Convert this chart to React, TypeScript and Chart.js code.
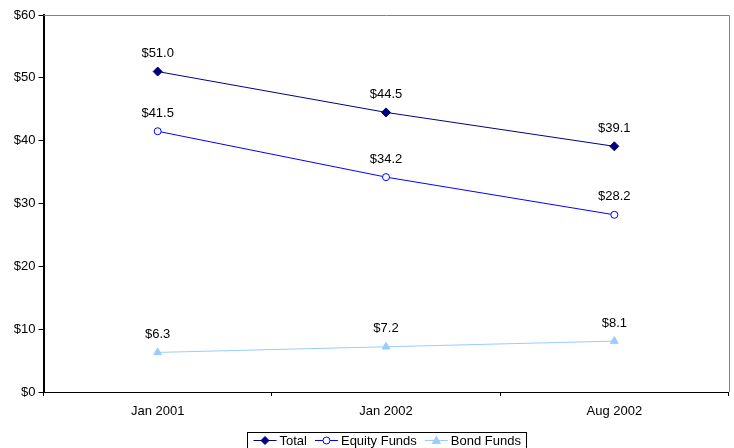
import React, { useEffect, useRef } from "react";
import { Chart, registerables } from "chart.js";

Chart.register(...registerables);

const categories = ["Jan 2001", "Jan 2002", "Aug 2002"];
const totalValues = [51.0, 44.5, 39.1];
const equityValues = [41.5, 34.2, 28.2];
const bondValues = [6.3, 7.2, 8.1];
const seriesNames = ["Total", "Equity Funds", "Bond Funds"];

const FONT = "'Liberation Sans', Arial, sans-serif";
const FS = 13;

const labelsPlugin = {
  id: "pointLabels",
  afterDatasetsDraw(chart: any) {
    const ctx = chart.ctx;
    ctx.save();
    ctx.font = `${FS}px ${FONT}`;
    ctx.fillStyle = "#000";
    ctx.textAlign = "center";
    ctx.textBaseline = "middle";
    chart.data.datasets.forEach((ds: any, i: number) => {
      const meta = chart.getDatasetMeta(i);
      meta.data.forEach((pt: any, j: number) => {
        ctx.fillText("$" + Number(ds.data[j]).toFixed(1), pt.x, pt.y - 18);
      });
    });
    ctx.restore();
  },
};

const framePlugin = {
  id: "frame",
  afterDraw(chart: any) {
    const { ctx, chartArea } = chart;
    ctx.save();
    ctx.strokeStyle = "#808080";
    ctx.lineWidth = 1;
    ctx.beginPath();
    ctx.moveTo(chartArea.left, chartArea.top + 0.5);
    ctx.lineTo(Math.round(chartArea.right) + 0.5, chartArea.top + 0.5);
    ctx.lineTo(Math.round(chartArea.right) + 0.5, chartArea.bottom);
    ctx.stroke();
    ctx.restore();
  },
};

const legendPlugin = {
  id: "customLegend",
  afterDraw(chart: any) {
    const ctx = chart.ctx;
    ctx.save();
    ctx.font = `${FS}px ${FONT}`;
    const lineLen = 23;
    const gap = 3;
    const itemGap = 8;
    const items = chart.data.datasets.map((ds: any) => ({
      ds,
      w: lineLen + gap + ctx.measureText(ds.label).width,
    }));
    const total = Math.round(items.reduce((s: number, it: any) => s + it.w, 0) + itemGap * (items.length - 1) + 12);
    const cx = (chart.chartArea.left + chart.chartArea.right) / 2;
    const boxL = Math.round(cx - total / 2) + 0.5;
    const boxT = 432.5;
    ctx.strokeStyle = "#000";
    ctx.lineWidth = 1;
    ctx.strokeRect(boxL, boxT, total, 20);
    let x = boxL + 6;
    const y = 440;
    items.forEach((it: any) => {
      const ds = it.ds;
      ctx.strokeStyle = ds.borderColor;
      ctx.lineWidth = 1;
      ctx.beginPath();
      ctx.moveTo(x, y + 0.5);
      ctx.lineTo(x + lineLen, y + 0.5);
      ctx.stroke();
      const mx = x + lineLen / 2;
      const my = y + 0.5;
      ctx.fillStyle = ds.pointBackgroundColor;
      ctx.strokeStyle = ds.pointBorderColor;
      ctx.beginPath();
      if (ds.pointStyle === "rectRot") {
        ctx.moveTo(mx, my - 4);
        ctx.lineTo(mx + 4, my);
        ctx.lineTo(mx, my + 4);
        ctx.lineTo(mx - 4, my);
        ctx.closePath();
        ctx.fill();
        ctx.stroke();
      } else if (ds.pointStyle === "circle") {
        ctx.arc(mx, my, 3.5, 0, Math.PI * 2);
        ctx.fill();
        ctx.stroke();
      } else {
        ctx.moveTo(mx, my - 4);
        ctx.lineTo(mx + 4, my + 3);
        ctx.lineTo(mx - 4, my + 3);
        ctx.closePath();
        ctx.fill();
        ctx.stroke();
      }
      ctx.fillStyle = "#000";
      ctx.textAlign = "left";
      ctx.textBaseline = "middle";
      ctx.fillText(ds.label, x + lineLen + gap, y + 1);
      x += it.w + itemGap;
    });
    ctx.restore();
  },
};

export default function App() {
  const ref = useRef<HTMLCanvasElement>(null);
  useEffect(() => {
    document.body.style.margin = "0";
    const chart = new Chart(ref.current!, {
      type: "line",
      data: {
        labels: categories,
        datasets: [
          {
            label: seriesNames[0],
            data: totalValues,
            borderColor: "#000080",
            backgroundColor: "#000080",
            pointBackgroundColor: "#000080",
            pointBorderColor: "#000080",
            pointStyle: "rectRot",
            pointRadius: 4.5,
            borderWidth: 1,
          },
          {
            label: seriesNames[1],
            data: equityValues,
            borderColor: "#0000FF",
            backgroundColor: "#ffffff",
            pointBackgroundColor: "#ffffff",
            pointBorderColor: "#0000FF",
            pointStyle: "circle",
            pointRadius: 3.5,
            pointBorderWidth: 1,
            borderWidth: 1,
          },
          {
            label: seriesNames[2],
            data: bondValues,
            borderColor: "#99CCFF",
            backgroundColor: "#99CCFF",
            pointBackgroundColor: "#99CCFF",
            pointBorderColor: "#99CCFF",
            pointStyle: "triangle",
            pointRadius: 4.5,
            borderWidth: 1,
          },
        ],
      } as any,
      options: {
        animation: false,
        responsive: false,
        layout: { padding: { top: 15, right: 1.5, left: 0.5, bottom: 0 } },
        plugins: { legend: { display: false }, tooltip: { enabled: false } },
        scales: {
          x: {
            offset: true,
            grid: { offset: true, drawOnChartArea: false, drawTicks: true, tickLength: 4, color: "#000", tickColor: "#000" },
            border: { display: true, color: "#000", width: 1 },
            ticks: { color: "#000", font: { family: FONT, size: FS }, padding: 8 },
            afterFit: (s: any) => { s.height = 56; },
          },
          y: {
            min: 0,
            max: 60,
            grid: { drawOnChartArea: false, drawTicks: true, tickLength: 5, color: "#000", tickColor: "#000" },
            border: { display: true, color: "#000", width: 2 },
            ticks: { stepSize: 10, color: "#000", font: { family: FONT, size: FS }, padding: 3, callback: (v: any) => "$" + v },
            afterFit: (s: any) => { s.width = 43; },
          },
        },
      },
      plugins: [labelsPlugin, framePlugin, legendPlugin],
    });
    return () => chart.destroy();
  }, []);
  return (
    <div style={{ width: 734, height: 448, position: "relative", background: "#fff" }}>
      <canvas ref={ref} width={734} height={448} style={{ display: "block" }} />
    </div>
  );
}
